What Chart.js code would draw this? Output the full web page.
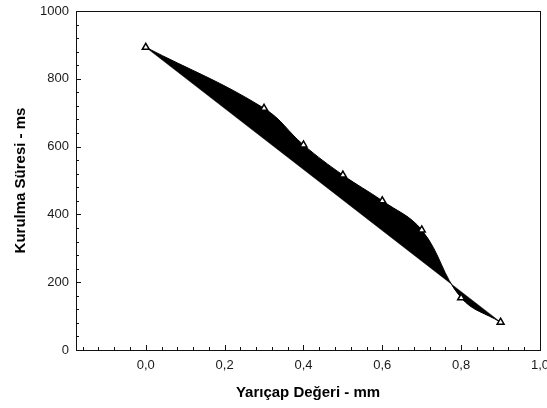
<!DOCTYPE html>
<html>
<head>
<meta charset="utf-8">
<script src="https://cdn.jsdelivr.net/npm/chart.js@4.4.0/dist/chart.umd.min.js"></script>
<style>
  html, body { margin: 0; padding: 0; background: #fff; overflow: hidden; }
  #wrap { width: 547px; height: 408px; }
</style>
</head>
<body>
<div id="wrap"><canvas id="chart"></canvas></div>
<script>
// radius (mm) vs setup time (ms)
const radius = [0.0, 0.3, 0.4, 0.5, 0.6, 0.7, 0.8, 0.9];
const setupTime = [893, 713, 605, 516, 440, 354, 154, 82];

const xMin = -0.177, xMax = 1.0;
const yMin = 0, yMax = 1000;
const xMajor = 0.2, xMinor = 0.04;
const yMajor = 200, yMinor = 40;

const curvePts = radius.map((x, i) => ({ x, y: setupTime[i] }));
// straight chord between first and last reading
const chordPts = [curvePts[0], curvePts[curvePts.length - 1]];

const fmt = v => v.toFixed(1).replace('.', ',');

// inward tick marks + frame box
const frameTicks = {
  id: 'frameTicks',
  afterDatasetsDraw(chart) {
    const { ctx, chartArea: a, scales: { x, y } } = chart;
    ctx.save();
    ctx.strokeStyle = '#111';
    ctx.lineWidth = 1;
    ctx.beginPath();
    const n = Math.round((xMax - 0) / xMinor);
    for (let k = -Math.floor(-xMin / xMinor); k <= n; k++) {
      const v = k * xMinor;
      if (v < xMin || v > xMax) continue;
      const px = Math.round(x.getPixelForValue(v)) + 0.5;
      const len = (k % 5 === 0) ? 5 : 3;
      ctx.moveTo(px, a.bottom);
      ctx.lineTo(px, a.bottom - len);
    }
    for (let k = 0; k * yMinor <= yMax; k++) {
      const py = Math.round(y.getPixelForValue(k * yMinor)) + 0.5;
      const len = (k % 5 === 0) ? 5 : 3;
      ctx.moveTo(a.left, py);
      ctx.lineTo(a.left + len, py);
    }
    ctx.stroke();
    ctx.strokeRect(Math.round(a.left) + 0.5, Math.round(a.top) + 0.5,
      Math.round(a.right - a.left), Math.round(a.bottom - a.top));
    ctx.restore();
  }
};

new Chart(document.getElementById('chart'), {
  type: 'scatter',
  data: {
    datasets: [
      {
        data: curvePts,
        showLine: true,
        tension: 0.4,
        borderColor: '#000',
        borderWidth: 1,
        backgroundColor: '#000',
        fill: 1,
        pointStyle: 'triangle',
        pointRadius: 4,
        pointBorderWidth: 1.5,
        pointBorderColor: '#000',
        pointBackgroundColor: '#fff',
        order: 0
      },
      {
        data: chordPts,
        showLine: true,
        borderColor: '#000',
        borderWidth: 0.5,
        pointRadius: 0,
        fill: false,
        order: 1
      }
    ]
  },
  options: {
    responsive: true,
    maintainAspectRatio: false,
    animation: false,
    layout: { padding: { left: 0, right: 7, top: 11, bottom: 0 } },
    plugins: { legend: { display: false }, tooltip: { enabled: false } },
    scales: {
      x: {
        type: 'linear',
        min: xMin,
        max: xMax,
        afterBuildTicks: s => {
          const t = [];
          for (let v = 0; v <= xMax + 1e-9; v += xMajor) t.push({ value: +v.toFixed(2) });
          s.ticks = t;
        },
        afterFit: s => { s.height = 58; s.paddingLeft = 0; s.paddingRight = 0; },
        grid: { display: true, drawOnChartArea: false, drawTicks: false },
        border: { display: false },
        ticks: {
          padding: 8,
          color: '#1a1a1a',
          font: { family: 'Arial, "Liberation Sans"', size: 13 },
          maxRotation: 0,
          autoSkip: false,
          callback: v => fmt(v)
        },
        title: {
          display: true,
          text: 'Yarıçap Değeri - mm',
          color: '#000',
          font: { family: 'Arial, "Liberation Sans"', size: 15, weight: 'bold' },
          padding: { top: 0, bottom: 6 }
        }
      },
      y: {
        min: yMin,
        max: yMax,
        afterFit: s => { s.width = 76; s.paddingTop = 0; s.paddingBottom = 0; },
        grid: { display: true, drawOnChartArea: false, drawTicks: false },
        border: { display: false },
        ticks: {
          stepSize: yMajor,
          padding: 7,
          color: '#1a1a1a',
          font: { family: 'Arial, "Liberation Sans"', size: 13 },
          callback: v => String(v)
        },
        title: {
          display: true,
          text: 'Kurulma Süresi - ms',
          color: '#000',
          font: { family: 'Arial, "Liberation Sans"', size: 15, weight: 'bold' },
          padding: { top: 12, bottom: 0 }
        }
      }
    }
  },
  plugins: [frameTicks]
});
</script>
</body>
</html>
